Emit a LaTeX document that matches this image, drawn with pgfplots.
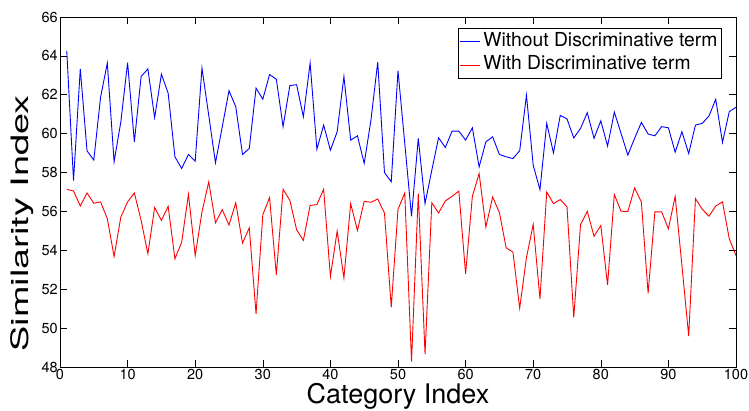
\documentclass[border=0pt]{standalone}
\usepackage{pgfplots}
\pgfplotsset{compat=1.18}
\usepackage{pgfplotstable}
\usepackage{fontspec}
\setmainfont{TeX Gyre Heros}
\pgfplotstableread{
x y
1 64.26
2 57.59
3 63.33
4 59.12
5 58.64
6 61.87
7 63.63
8 58.55
9 60.61
10 63.65
11 59.58
12 62.94
13 63.33
14 60.82
15 63.06
16 62.08
17 58.81
18 58.21
19 58.93
20 58.59
21 63.37
22 60.95
23 58.50
24 60.35
25 62.21
26 61.39
27 58.93
28 59.24
29 62.34
30 61.77
31 63.04
32 62.80
33 60.36
34 62.47
35 62.52
36 60.87
37 63.63
38 59.20
39 60.44
40 59.15
41 60.10
42 62.94
43 59.67
44 59.89
45 58.47
46 60.70
47 63.68
48 58.00
49 57.52
50 63.24
51 59.50
52 55.75
53 59.76
54 56.40
55 58.12
56 59.79
57 59.29
58 60.13
59 60.13
60 59.67
61 60.30
62 58.29
63 59.58
64 59.84
65 58.93
66 58.81
67 58.72
68 59.12
69 61.98
70 58.38
71 57.12
72 60.53
73 59.01
74 60.94
75 60.76
76 59.78
77 60.27
78 61.08
79 59.76
80 60.66
81 59.36
82 61.11
83 60.01
84 58.90
85 59.76
86 60.58
87 59.98
88 59.89
89 60.36
90 60.30
91 59.05
92 60.10
93 58.98
94 60.44
95 60.53
96 60.91
97 61.77
98 59.55
99 61.13
100 61.36
}\without
\pgfplotstableread{
x y
1 57.14
2 57.05
3 56.28
4 56.95
5 56.42
6 56.49
7 55.63
8 53.68
9 55.71
10 56.49
11 56.95
12 55.54
13 53.82
14 56.20
15 55.54
16 56.26
17 53.56
18 54.42
19 56.88
20 53.73
21 55.97
22 57.52
23 55.42
24 56.09
25 55.30
26 56.45
27 54.37
28 55.16
29 50.73
30 55.83
31 56.71
32 52.74
33 57.14
34 56.57
35 55.06
36 54.51
37 56.31
38 56.35
39 57.14
40 52.65
41 54.99
42 52.58
43 56.40
44 55.02
45 56.52
46 56.47
47 56.64
48 55.92
49 51.07
50 56.11
51 56.95
52 48.28
53 56.92
54 48.66
55 56.45
56 55.92
57 56.54
58 56.78
59 57.04
60 52.79
61 56.78
62 57.95
63 55.20
64 56.74
65 55.94
66 54.13
67 53.91
68 51.02
69 53.62
70 55.33
71 51.50
72 57.00
73 56.40
74 56.61
75 56.24
76 50.55
77 55.32
78 56.01
79 54.72
80 55.28
81 52.22
82 56.87
83 56.01
84 56.00
85 57.21
86 56.49
87 51.79
88 55.98
89 55.98
90 55.11
91 56.78
92 53.22
93 49.59
94 56.66
95 56.11
96 55.76
97 56.28
98 56.49
99 54.60
100 53.73
}\withd
\begin{document}
\begin{tikzpicture}
\useasboundingbox (0pt,0pt) rectangle (749pt,410pt);
\begin{axis}[
  at={(60pt,43pt)}, anchor=south west,
  width=676pt, height=350pt, scale only axis,
  xmin=0, xmax=100, ymin=48, ymax=66,
  xtick={0,10,...,100}, ytick={48,50,...,66},
  tick align=inside, major tick length=7pt,
  axis line style={line width=0.8pt},
  every tick/.style={black, line width=0.6pt},
  /pgf/number format/assume math mode=true,
  tick label style={font=\fontsize{14.5}{16}\selectfont, inner sep=2pt},
  xticklabel style={inner sep=2.5pt},
  xlabel={Category Index},
  ylabel={Similarity Index},
  xlabel style={font=\fontsize{27}{29}\selectfont, at={(axis description cs:0.5,0)}, anchor=north, yshift=-16.5pt, inner sep=0pt},
  ylabel style={font=\fontsize{24}{26}\selectfont, at={(axis description cs:-0.0562,0.41)}, anchor=center, inner sep=0pt, xscale=1.58},
  legend style={at={(axis description cs:0.979,0.9686)}, anchor=north east,
    font=\fontsize{19.3}{21}\selectfont, draw=black, line width=0.8pt, inner sep=1.5pt,
    nodes={inner sep=2.5pt, text height=14pt, text depth=4.5pt}, row sep=0pt},
  legend cell align=left,
  legend image code/.code={\draw[#1] (0pt,0pt) -- (20pt,0pt);},
]
\addplot[blue, line width=0.9pt] table[x=x,y=y] {\without};
\addlegendentry{Without Discriminative term}
\addplot[red, line width=0.9pt] table[x=x,y=y] {\withd};
\addlegendentry{With Discriminative term}
\end{axis}
\end{tikzpicture}
\end{document}
